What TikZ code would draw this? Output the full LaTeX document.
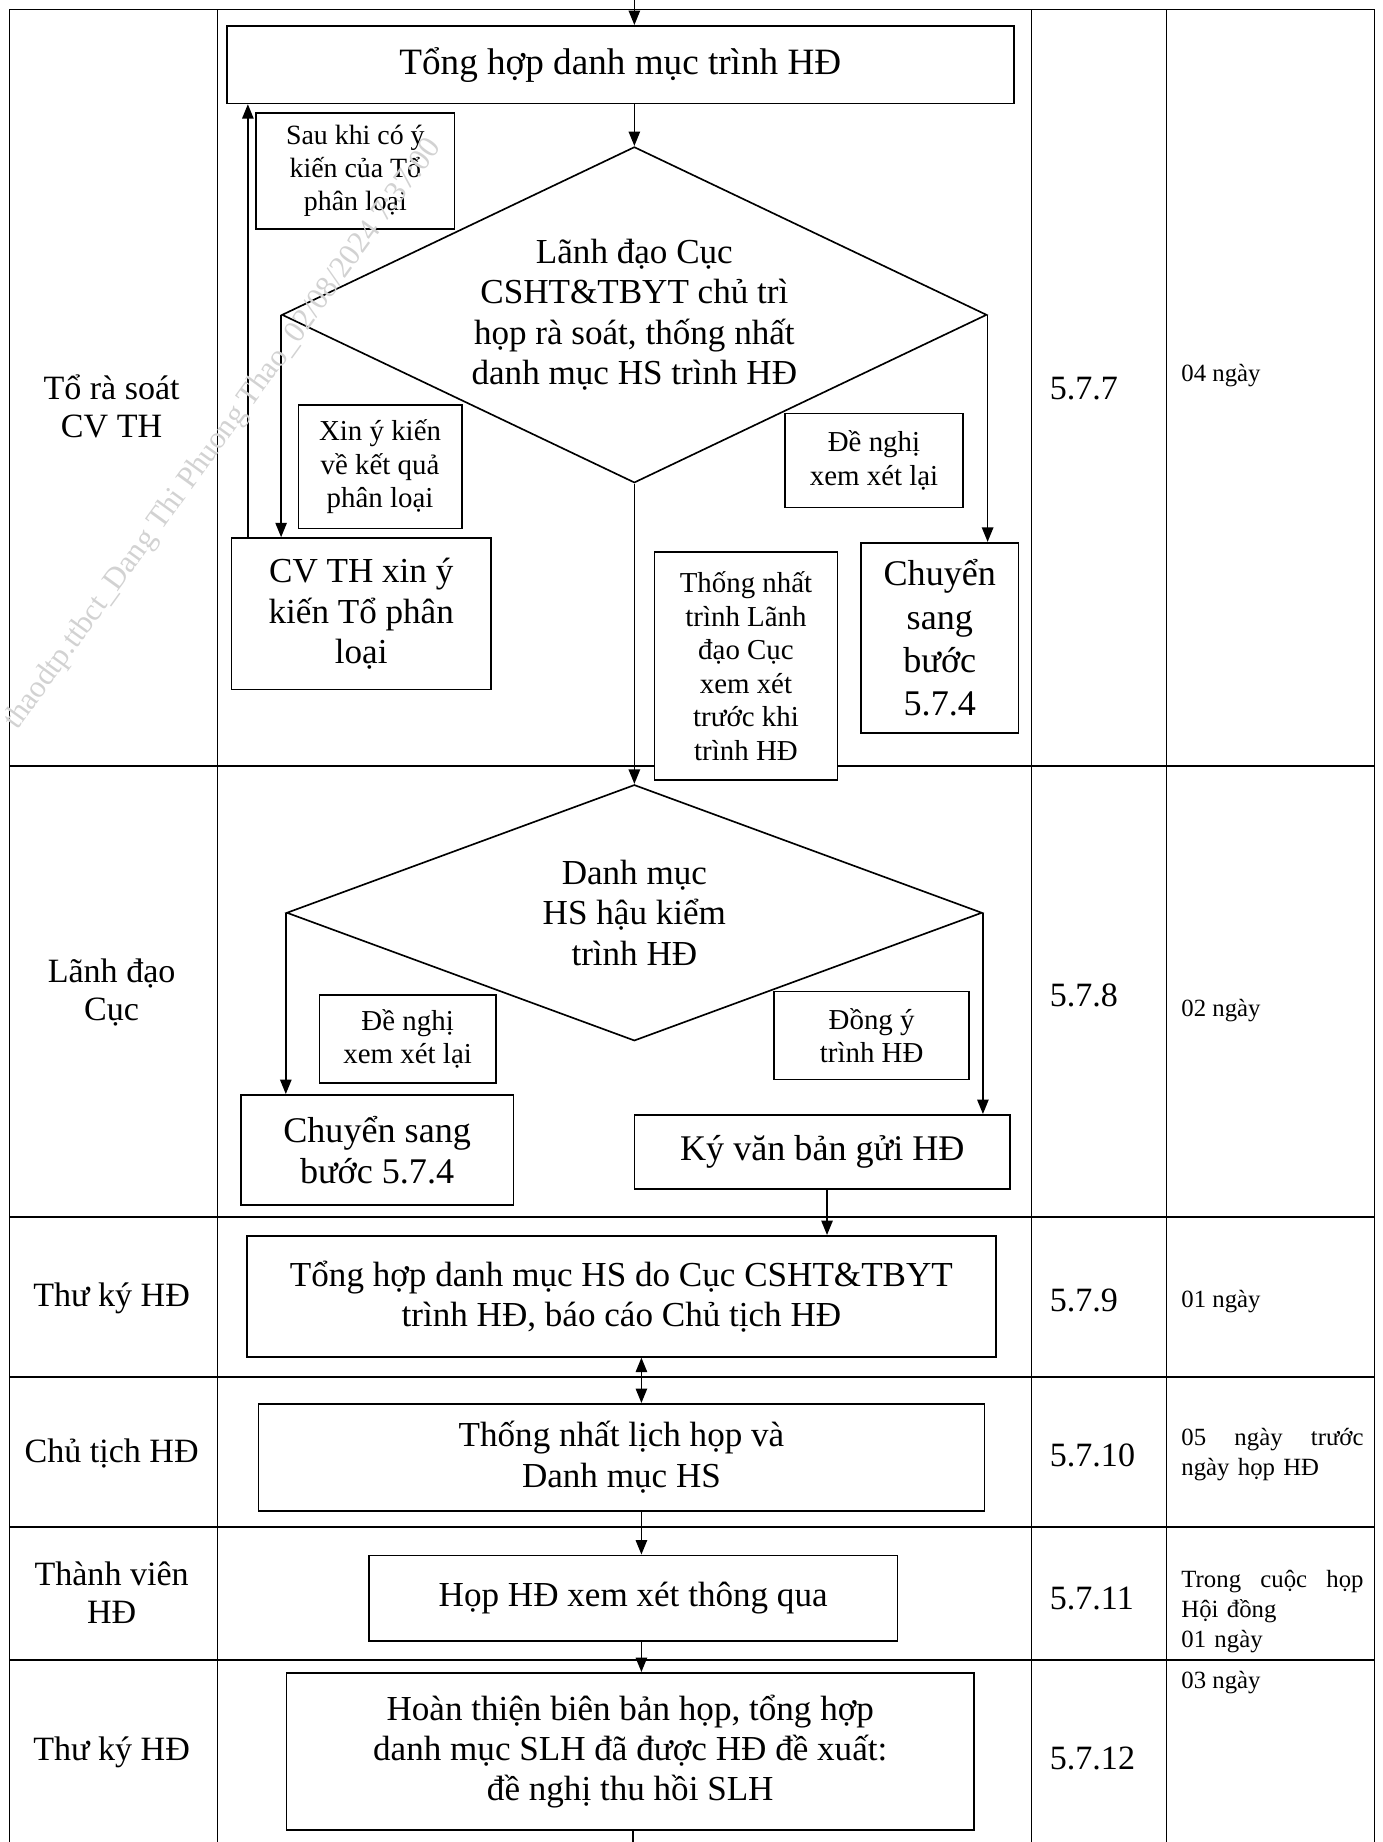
\documentclass[tikz,border=0pt]{standalone}
\usepackage{fontspec}
\setmainfont{Liberation Serif}
\usetikzlibrary{shapes.geometric,arrows.meta}

\begin{document}
\begin{tikzpicture}[
        line width=0.8pt,
        box/.style={draw, fill=white, align=center, inner sep=2pt, font=\fontsize{17}{19.5}\selectfont},
        note/.style={draw, fill=white, align=center, inner sep=2pt, font=\fontsize{14}{16.2}\selectfont},
        decision/.style={draw, fill=white, diamond, aspect=2, inner sep=0pt, align=center, font=\fontsize{17}{19.5}\selectfont},
        lane/.style={align=center, font=\fontsize{16.5}{18.5}\selectfont},
        stepno/.style={anchor=west, inner sep=0pt, font=\fontsize{16.5}{19}\selectfont},
        days/.style={anchor=west, inner sep=0pt, align=left, font=\fontsize{12}{14.5}\selectfont},
        arr/.style={-{Triangle[length=7pt,width=5.5pt]}},
        arr2/.style={{Triangle[length=7pt,width=5.5pt]}-{Triangle[length=7pt,width=5.5pt]}}
    ]
        \useasboundingbox (0,0) rectangle (23.54,-31.36);

        % khung bang
        \draw (0.16,-31.36) -- (0.16,-0.16) -- (23.40,-0.16) -- (23.40,-31.36);
        \draw (3.70,-0.16) -- (3.70,-31.36);
        \draw (17.56,-0.16) -- (17.56,-31.36);
        \draw (19.86,-0.16) -- (19.86,-31.36);
        \draw (0.16,-13.04) -- (23.40,-13.04);
        \draw (0.16,-20.72) -- (23.40,-20.72);
        \draw (0.16,-23.44) -- (23.40,-23.44);
        \draw (0.16,-26.00) -- (23.40,-26.00);
        \draw (0.16,-28.26) -- (23.40,-28.26);

        % cot don vi
        \node[lane] (l1) at (1.90,-6.92) {Tổ rà soát\\CV TH};
        \node[lane] (l2) at (1.90,-16.90) {Lãnh đạo\\Cục};
        \node[lane] (l3) at (1.90,-22.10) {Thư ký HĐ};
        \node[lane] (l4) at (1.90,-24.74) {Chủ tịch HĐ};
        \node[lane] (l5) at (1.90,-27.12) {Thành viên\\HĐ};
        \node[lane] (l6) at (1.90,-29.84) {Thư ký HĐ};

        % buoc 5.7.7
        \node[box, font=\fontsize{18}{20}\selectfont, minimum width=13.40cm, minimum height=1.32cm] (th_dm) at (10.56,-1.10) {Tổng hợp danh mục trình HĐ};
        \node[decision, minimum width=12.0cm, minimum height=5.72cm] (d1) at (10.80,-5.36) {Lãnh đạo Cục\\CSHT\&TBYT chủ trì\\họp rà soát, thống nhất\\danh mục HS trình HĐ};
        \node[note, font=\fontsize{13.5}{15.9}\selectfont, minimum width=3.38cm, minimum height=1.98cm] (sau_ykien) at (6.05,-2.91) {Sau khi có ý\\kiến của Tổ\\phân loại};
        \node[note, minimum width=2.78cm, minimum height=2.10cm] (xin_ykien) at (6.47,-7.95) {Xin ý kiến\\về kết quả\\phân loại};
        \node[box, minimum width=4.42cm, minimum height=2.58cm] (cvth) at (6.15,-10.45) {CV TH xin ý\\kiến Tổ phân\\loại};
        \node[note, minimum width=3.04cm, minimum height=1.60cm] (denghi1) at (14.88,-7.84) {Đề nghị\\xem xét lại};
        \node[box, font=\fontsize{17.5}{21}\selectfont, minimum width=2.68cm, minimum height=3.24cm] (chuyen1) at (16.00,-10.86) {Chuyển\\sang\\bước\\5.7.4};
        \node[note, minimum width=3.12cm, minimum height=3.88cm] (thongnhat) at (12.70,-11.34) {Thống nhất\\trình Lãnh\\đạo Cục\\xem xét\\trước khi\\trình HĐ};

        % buoc 5.7.8
        \node[decision, minimum width=11.84cm, minimum height=4.36cm] (d2) at (10.80,-15.54) {Danh mục\\HS hậu kiểm\\trình HĐ};
        \node[note, minimum width=3.0cm, minimum height=1.50cm] (denghi2) at (6.94,-17.69) {Đề nghị\\xem xét lại};
        \node[box, font=\fontsize{17.5}{20}\selectfont, minimum width=4.64cm, minimum height=1.88cm] (chuyen2) at (6.42,-19.58) {Chuyển sang\\bước 5.7.4};
        \node[note, minimum width=3.32cm, minimum height=1.50cm] (dongy) at (14.84,-17.63) {Đồng ý\\trình HĐ};
        \node[box, font=\fontsize{17.5}{20}\selectfont, minimum width=6.4cm, minimum height=1.26cm] (ky) at (14.00,-19.61) {Ký văn bản gửi HĐ};

        % buoc 5.7.9 - 5.7.12
        \node[box, minimum width=12.76cm, minimum height=2.06cm] (th_hs) at (10.58,-22.07) {Tổng hợp danh mục HS do Cục CSHT\&TBYT\\trình HĐ, báo cáo Chủ tịch HĐ};
        \node[box, minimum width=12.36cm, minimum height=1.82cm] (lichhop) at (10.58,-24.81) {Thống nhất lịch họp và\\Danh mục HS};
        \node[box, minimum width=9.0cm, minimum height=1.46cm] (hop) at (10.78,-27.21) {Họp HĐ xem xét thông qua};
        \node[box, minimum width=11.7cm, minimum height=2.68cm] (hoanthien) at (10.73,-29.82) {Hoàn thiện biên bản họp, tổng hợp\\danh mục SLH đã được HĐ đề xuất:\\đề nghị thu hồi SLH};

        % so buoc
        \node[stepno] (s7) at (17.86,-6.62) {5.7.7};
        \node[stepno] (s8) at (17.86,-16.94) {5.7.8};
        \node[stepno] (s9) at (17.86,-22.14) {5.7.9};
        \node[stepno] (s10) at (17.86,-24.78) {5.7.10};
        \node[stepno] (s11) at (17.86,-27.22) {5.7.11};
        \node[stepno] (s12) at (17.86,-29.94) {5.7.12};

        % thoi gian
        \node[days] (t7) at (20.10,-6.40) {04 ngày};
        \node[days] (t8) at (20.10,-17.20) {02 ngày};
        \node[days] (t9) at (20.10,-22.16) {01 ngày};
        \node[days, text width=3.1cm] (t10) at (20.10,-24.76) {05\hfill ngày\hfill trước\\ngày họp HĐ};
        \node[days, text width=3.1cm] (t11) at (20.10,-27.44) {Trong\hfill cuộc\hfill họp\\Hội đồng\\01 ngày};
        \node[days] (t12) at (20.10,-28.64) {03 ngày};

        % mui ten
        \coordinate (top_in) at (10.80,0);
        \coordinate (up_x) at (4.22,0);
        \coordinate (ky_x) at (14.08,0);
        \coordinate (lo_x) at (10.92,0);
        \coordinate (bot_out) at (10.78,-31.36);
        \draw[arr] (top_in) -- (top_in |- th_dm.north);
        \draw[arr] (th_dm.south -| d1.north) -- (d1.north);
        \draw[arr] (up_x |- cvth.north) -- (up_x |- th_dm.south);
        \draw[arr] (d1.west) -- (d1.west |- cvth.north);
        \draw[arr] (d1.east) -- (d1.east |- chuyen1.north);
        \draw[arr] (d1.south) -- (d2.north);
        \draw[arr] (d2.west) -- (d2.west |- chuyen2.north);
        \draw[arr] (d2.east) -- (d2.east |- ky.north);
        \draw[arr] (ky_x |- ky.south) -- (ky_x |- th_hs.north);
        \draw[arr2] (lo_x |- th_hs.south) -- (lo_x |- lichhop.north);
        \draw[arr] (lo_x |- lichhop.south) -- (lo_x |- hop.north);
        \draw[arr] (lo_x |- hop.south) -- (lo_x |- hoanthien.north);
        \draw (bot_out |- hoanthien.south) -- (bot_out);

        % dau in
        \node[rotate=54, text=gray!35, font=\fontsize{15}{15}\selectfont] (wm) at (3.80,-7.40) {thaodtp.ttbct\_Dang Thi Phuong Thao\_02/08/2024 7:37:00};
    \end{tikzpicture}
\end{document}
